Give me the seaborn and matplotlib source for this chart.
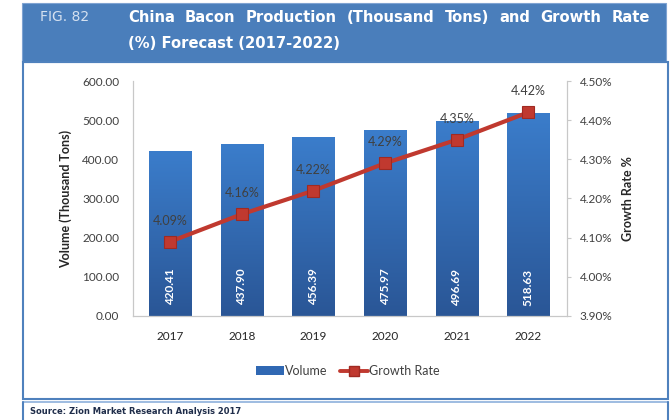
import numpy as np
import pandas as pd
import matplotlib
matplotlib.use("Agg")
import matplotlib.pyplot as plt
from matplotlib.patches import Rectangle
from matplotlib.lines import Line2D
from matplotlib.patches import Patch
import seaborn as sns

# ---- data ----
years = ["2017", "2018", "2019", "2020", "2021", "2022"]
volume = [420.41, 437.90, 456.39, 475.97, 496.69, 518.63]
growth = [4.09, 4.16, 4.22, 4.29, 4.35, 4.42]
vol_ticks = [0, 100, 200, 300, 400, 500, 600]
rate_ticks = [3.90, 4.00, 4.10, 4.20, 4.30, 4.40, 4.50]

sns.set_theme(style="white")
plt.rcParams["font.family"] = ["Lato", "DejaVu Sans"]

W, H = 672, 420
fig = plt.figure(figsize=(W / 100, H / 100), dpi=100)
fig.patch.set_facecolor("white")


def fx(x):
    return x / W


def fy(y):
    return 1 - y / H


# ---- frame: title banner, chart box, source box ----
banner = "#4A7EBB"
edge = "#4F81BD"
fig.patches.append(Rectangle((fx(22), fy(62)), fx(666) - fx(22), fy(3) - fy(62),
                             transform=fig.transFigure, facecolor=banner,
                             edgecolor="#7FA3D2", lw=0.8, zorder=-2))
fig.patches.append(Rectangle((fx(23), fy(399)), fx(668) - fx(23), fy(62) - fy(399),
                             transform=fig.transFigure, facecolor="none",
                             edgecolor=edge, lw=1.5, zorder=-2))
fig.add_artist(Line2D([fx(23), fx(668)], [fy(402), fy(402)], transform=fig.transFigure,
                      color="#8DB0DC", lw=1.2, zorder=-2))
fig.add_artist(Line2D([fx(23), fx(23)], [fy(402), fy(420)], transform=fig.transFigure,
                      color=edge, lw=1.5, zorder=-2))
fig.add_artist(Line2D([fx(668), fx(668)], [fy(402), fy(420)], transform=fig.transFigure,
                      color=edge, lw=1.5, zorder=-2))

# ---- title ----
fig.text(fx(40), fy(17), "FIG. 82", color="#D5E1F0", fontsize=10,
         family="DejaVu Sans", va="center", ha="left")

line1_words = "China Bacon Production (Thousand Tons) and Growth Rate".split()
line2 = "(%) Forecast (2017-2022)"
tkw = dict(color="white", fontsize=10.6, fontweight="bold", family="DejaVu Sans", va="center")

# justify the first title line between two edges
renderer = fig.canvas.get_renderer()
x0, x1 = 128, 650
widths = []
tmp = []
for w in line1_words:
    t = fig.text(0, 0, w, **tkw)
    widths.append(t.get_window_extent(renderer).width)
    tmp.append(t)
for t in tmp:
    t.remove()
gap = (x1 - x0 - sum(widths)) / (len(line1_words) - 1)
x = x0
for w, wd in zip(line1_words, widths):
    fig.text(fx(x), fy(17), w, ha="left", **tkw)
    x += wd + gap
fig.text(fx(128), fy(44), line2, ha="left", **tkw)

# ---- source ----
fig.text(fx(30), fy(412), "Source: Zion Market Research Analysis 2017", color="#1F2D4A",
         fontsize=6, fontweight="bold", family="DejaVu Sans", va="center", ha="left")

# ---- axes ----
ax = fig.add_axes([fx(133), fy(316), fx(567) - fx(133), fy(81) - fy(316)])
df = pd.DataFrame({"Year": years, "Volume": volume})
sns.barplot(data=df, x="Year", y="Volume", color="#2F65AD", width=0.59,
            saturation=1, ax=ax, zorder=2)
ax.set_xlim(-0.52, 5.54)
ax.set_ylim(0, 600)
ax.set_yticks(vol_ticks)
ax.set_yticklabels([f"{v:.2f}" for v in vol_ticks])
ax.set_xlabel("")
ax.set_ylabel("Volume (Thousand Tons)", fontsize=9, fontweight="bold", color="#262626",
              labelpad=7)
ax.tick_params(axis="y", length=0, pad=10, labelsize=8.5, labelcolor="#404040")
ax.tick_params(axis="x", length=0, pad=11, labelsize=8.5, labelcolor="#262626")
for s in ["top", "right"]:
    ax.spines[s].set_visible(False)
for s in ["left", "bottom"]:
    ax.spines[s].set_color("#C8C8C8")
    ax.spines[s].set_linewidth(0.9)
ax.set_facecolor("white")

# vertical gradient fill on each bar
grad = np.linspace(0, 1, 256).reshape(-1, 1)
cmap = matplotlib.colors.LinearSegmentedColormap.from_list("barg", ["#2A5696", "#3B7DCB"])
for p in ax.patches:
    bx, by = p.get_x(), p.get_y()
    bw, bh = p.get_width(), p.get_height()
    im = ax.imshow(grad, extent=[bx, bx + bw, by, by + bh], origin="lower",
                   cmap=cmap, aspect="auto", zorder=2.5)
    im.set_clip_path(p)
ax.set_xlim(-0.52, 5.54)
ax.set_ylim(0, 600)

for i, v in enumerate(volume):
    ax.text(i, 74, f"{v:.2f}", rotation=90, ha="center", va="center", color="white",
            fontsize=8.5, fontweight="bold", zorder=4)

# growth rate line on the secondary axis
ax2 = ax.twinx()
line_color = "#C0392F"
pos = np.arange(len(years))
sns.lineplot(x=pos, y=growth, ax=ax2, color=line_color, lw=3.0, marker="s",
             markersize=8.5, markeredgecolor="#A02A22", markeredgewidth=0.8, zorder=5)
ax2.set_ylim(3.90, 4.50)
ax2.set_yticks(rate_ticks)
ax2.set_yticklabels([f"{v:.2f}%" for v in rate_ticks])
ax2.set_ylabel("Growth Rate %", fontsize=9, fontweight="bold", color="#262626",
               labelpad=7)
ax2.tick_params(axis="y", length=3, width=0.8, color="#C8C8C8", pad=6, labelsize=8.5,
                labelcolor="#404040", direction="out")
for s in ["top", "left", "bottom"]:
    ax2.spines[s].set_visible(False)
ax2.spines["right"].set_color("#C8C8C8")
ax2.spines["right"].set_linewidth(0.9)
ax2.grid(False)
ax.grid(False)

for i, g in enumerate(growth):
    ax2.annotate(f"{g:.2f}%", (i, g), xytext=(0, 15), textcoords="offset points",
                 ha="center", va="center", fontsize=9, color="#404040", zorder=6)

# ---- legend ----
handles = [Patch(facecolor="#3068B3", edgecolor="none"),
           Line2D([0], [0], color=line_color, lw=2.8, marker="s", markersize=7,
                  markeredgecolor="#A02A22")]
fig.legend(handles, ["Volume", "Growth Rate"], loc="center", bbox_to_anchor=(fx(348), fy(371)),
           ncol=2, frameon=False, fontsize=9, handlelength=2.2, handletextpad=0.1,
           columnspacing=1.0, labelcolor="#404040")

fig.savefig("out.png", dpi=100, facecolor="white")
